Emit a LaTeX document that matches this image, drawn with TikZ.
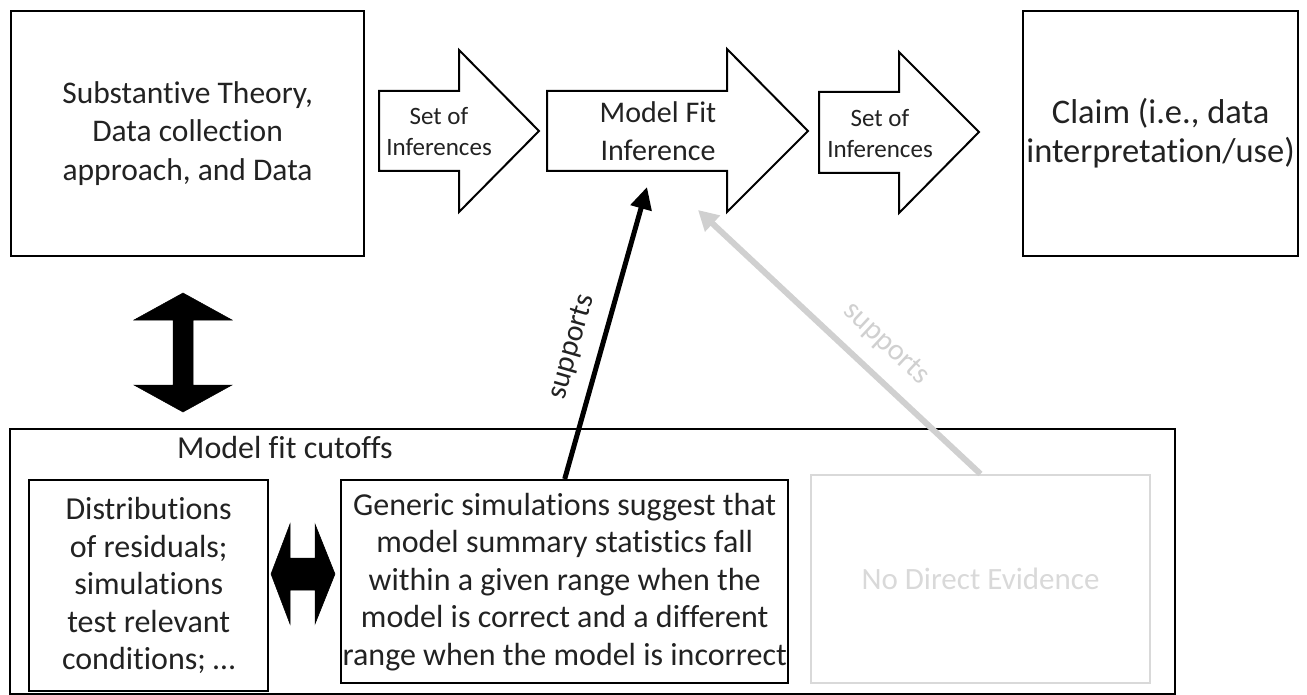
\documentclass[tikz,border=0pt]{standalone}
\usepackage{fontspec}
\setmainfont{Carlito}[Ligatures={NoCommon}]
\usetikzlibrary{arrows.meta}
\definecolor{lightg}{HTML}{D9D9D9}
\definecolor{arrowg}{HTML}{D0D0D0}
\definecolor{txt}{HTML}{222222}
\begin{document}
\begin{tikzpicture}[x=1pt,y=-1pt,
  topbox/.style={draw, line width=2.2pt, inner sep=0pt, anchor=north west, text=txt, align=center},
  lowbox/.style={draw, line width=2.4pt, inner sep=0pt, anchor=north west, text=txt,
    font=\fontsize{32}{37.5}\selectfont, align=center},
  blockarrow/.style={draw, line width=2pt, fill=white, line join=miter},
  bigtxt/.style={text=txt, font=\fontsize{30}{38}\selectfont, align=center, inner sep=0pt},
  smalltxt/.style={text=txt, font=\fontsize{25}{31}\selectfont, align=center, inner sep=0pt},
  dblarrow/.style={fill=black, draw=black, line width=0.5pt, line join=miter},
  suplabel/.style={font=\fontsize{30}{36}\selectfont, inner sep=0pt}]
\useasboundingbox (0,0) rectangle (1307,695);

% top boxes
\node[topbox, minimum width=353pt, minimum height=245pt, font=\fontsize{31.5}{38.5}\selectfont] (theory) at (10,10)
  {Substantive Theory,\\Data collection\\approach, and Data};
\node[topbox, minimum width=275pt, minimum height=245pt, font=\fontsize{34.5}{39}\selectfont] (claim) at (1022,10)
  {Claim (i.e., data\\interpretation/use)};

% block arrows
\draw[blockarrow] (379,91) -- (459,91) -- (459,50) -- (539,131) -- (459,212) -- (459,171) -- (379,171) -- cycle;
\node[smalltxt] (inf1) at (439,132) {Set of\\Inferences};
\draw[blockarrow] (547,91) -- (727,91) -- (727,49) -- (808,131) -- (727,212) -- (727,171) -- (547,171) -- cycle;
\node[bigtxt] (mfi) at (658,131) {Model Fit\\Inference};
\draw[blockarrow] (819,92) -- (899,92) -- (899,52) -- (979,132) -- (899,213) -- (899,173) -- (819,173) -- cycle;
\node[smalltxt] (inf2) at (880,134) {Set of\\Inferences};

% vertical double arrow
\path[dblarrow] (183,293) -- (232,320) -- (193,320) -- (193,385) -- (232,385) -- (183,412)
  -- (134,385) -- (173,385) -- (173,320) -- (134,320) -- cycle;

% lower outer box
\node[draw, line width=2pt, anchor=north west, minimum width=1165pt, minimum height=265pt, inner sep=0pt] (outer) at (9,428) {};
\node[anchor=base west, text=txt, font=\fontsize{32}{38}\selectfont, inner sep=0pt] (cutoffs) at (177,458) {Model fit cutoffs};

\node[lowbox, minimum width=239pt, minimum height=211pt] (dist) at (28,479)
  {Distributions\\of residuals;\\simulations\\test relevant\\conditions; \ldots};
\node[lowbox, minimum width=447pt, minimum height=203pt] (generic) at (340,479)
  {Generic simulations suggest that\\model summary statistics fall\\within a given range  when the\\model is correct and a different\\range when the model is incorrect};
\node[draw=lightg, line width=2pt, anchor=north west, minimum width=339pt, minimum height=208pt, inner sep=0pt,
  text=lightg, font=\fontsize{31}{37}\selectfont] (nde) at (810,474) {No Direct Evidence};

% horizontal double arrow
\path[dblarrow] (271,574) -- (290,524) -- (290,558) -- (315,558) -- (315,524) -- (335,574)
  -- (315,624) -- (315,590) -- (290,590) -- (290,624) -- cycle;

% supports connectors
\coordinate (btip) at (647,187);
\coordinate (gtip) at (698,210);
\draw[line width=5pt, -{Triangle[length=22pt 0 0, width=21pt 0 0]}] (generic.north) -- (btip);
\node[suplabel, text=txt, rotate=74] (sup1) at (572,347) {supports};
\draw[arrowg, line width=6pt, -{Triangle[length=20pt 0 0, width=21pt 0 0]}] (nde.north) -- (gtip);
\node[suplabel, text=arrowg, rotate=-43] (sup2) at (886,344) {supports};
\end{tikzpicture}
\end{document}
